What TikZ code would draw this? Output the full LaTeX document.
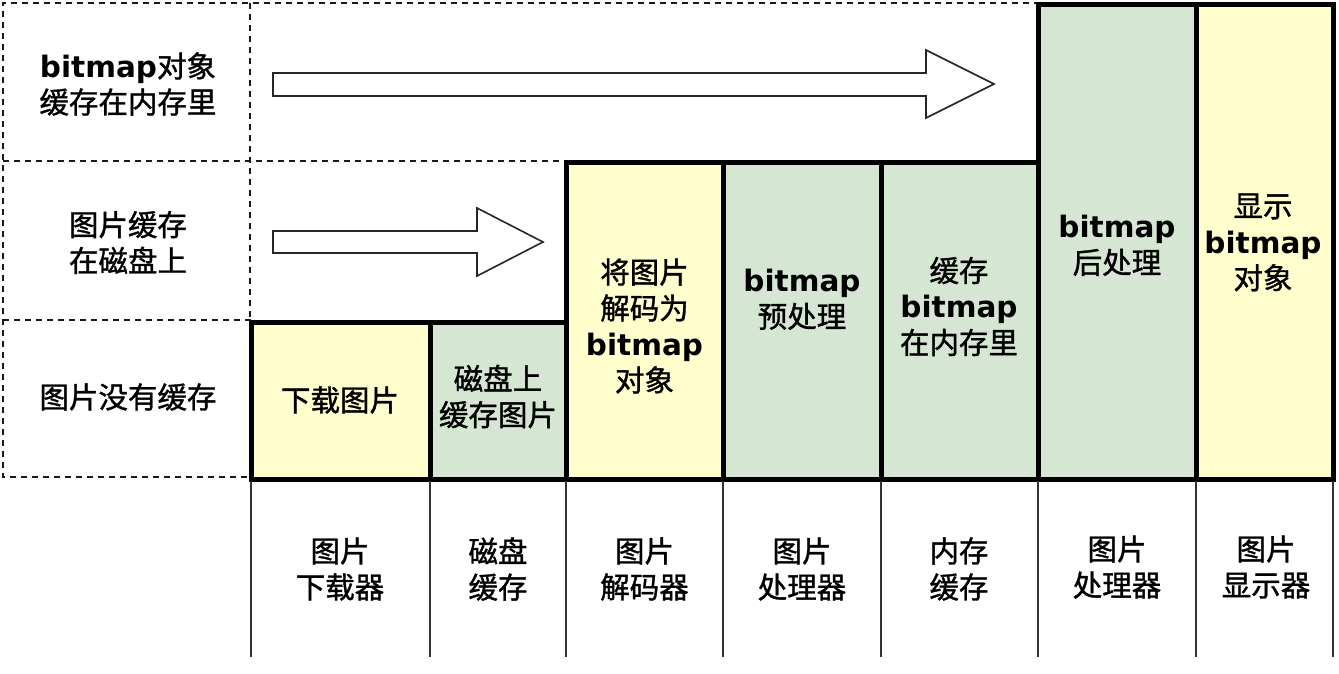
\documentclass[tikz,border=0pt]{standalone}
\usepackage{fontspec}
\setmainfont{Noto Sans CJK SC}[FakeBold=1.2]
\newfontfamily\latinfont{DejaVu Sans}
\newcommand\bmp{{\latinfont\bfseries bitmap}}
\definecolor{cellY}{RGB}{255,254,204}
\definecolor{cellG}{RGB}{213,230,211}
\tikzset{
  lbl/.style={align=center, inner sep=0pt, font=\fontsize{29.5}{36}\selectfont},
  guide/.style={dash pattern=on 6pt off 5pt, line width=2.2pt, black!90},
  outline/.style={line width=5pt, line join=miter, line cap=rect},
  divider/.style={line width=5pt},
  baseline rule/.style={line width=1.8pt, black!80},
  bigarrow/.style={draw=black!85, fill=white, line width=1.6pt, line join=miter}
}
\begin{document}
\begin{tikzpicture}[x=1pt,y=-1pt]
\useasboundingbox (0,0) rectangle (1339,673);

% dashed guide grid on the left and along the top
\draw[guide] (247,477) -- (3,477) -- (3,3) -- (1038,3);
\draw[guide] (3,161) -- (566,161);
\draw[guide] (3,320) -- (251,320);
\draw[guide] (250,3) -- (250,322);

% coloured stage columns
\fill[cellY] (251,322) rectangle (430,479);
\fill[cellG] (430,322) rectangle (566,479);
\fill[cellY] (566,162) rectangle (723,479);
\fill[cellG] (723,162) rectangle (881,479);
\fill[cellG] (881,162) rectangle (1038,479);
\fill[cellG] (1038,4) rectangle (1196,479);
\fill[cellY] (1196,4) rectangle (1333,479);

% stepped outline and column dividers
\draw[outline] (251,479) -- (251,322) -- (566,322) -- (566,162) -- (1038,162)
  -- (1038,4) -- (1333,4) -- (1333,479) -- cycle;
\foreach \x/\t in {430/322, 566/322, 723/162, 881/162, 1038/162, 1196/4}
  \draw[divider] (\x,\t) -- (\x,479);

% thin rules below the columns
\foreach \x in {251,430,566,723,881,1038,1196,1333}
  \draw[baseline rule] (\x,481) -- (\x,657);

% block arrows
\draw[bigarrow] (273,73) -- (926,73) -- (926,50) -- (994,84) -- (926,118)
  -- (926,96) -- (273,96) -- cycle;
\draw[bigarrow] (273,231) -- (477,231) -- (477,208) -- (543,242) -- (477,276)
  -- (477,253) -- (273,253) -- cycle;

% row headings
\node[lbl] (rowmem)  at (128,84)    {\bmp 对象\\缓存在内存里};
\node[lbl] (rowdisk) at (128,242.5) {图片缓存\\在磁盘上};
\node[lbl] (rownone) at (128,397)   {图片没有缓存};

% stage descriptions
\node[lbl] (s1) at (340,400)    {下载图片};
\node[lbl] (s2) at (498,396.5)  {磁盘上\\缓存图片};
\node[lbl] (s3) at (644.5,326)  {将图片\\解码为\\\bmp\\对象};
\node[lbl] (s4) at (802,299.5)  {\bmp\\预处理};
\node[lbl] (s5) at (959,306.5)  {缓存\\\bmp\\在内存里};
\node[lbl] (s6) at (1117,245.5) {\bmp\\后处理};
\node[lbl] (s7) at (1263,242.5) {显示\\\bmp\\对象};

% component names
\node[lbl] (c1) at (340,569)    {图片\\下载器};
\node[lbl] (c2) at (498,569)    {磁盘\\缓存};
\node[lbl] (c3) at (644.5,569)  {图片\\解码器};
\node[lbl] (c4) at (802,569)    {图片\\处理器};
\node[lbl] (c5) at (959,569)    {内存\\缓存};
\node[lbl] (c6) at (1117,567)   {图片\\处理器};
\node[lbl] (c7) at (1266,567)   {图片\\显示器};
\end{tikzpicture}
\end{document}
